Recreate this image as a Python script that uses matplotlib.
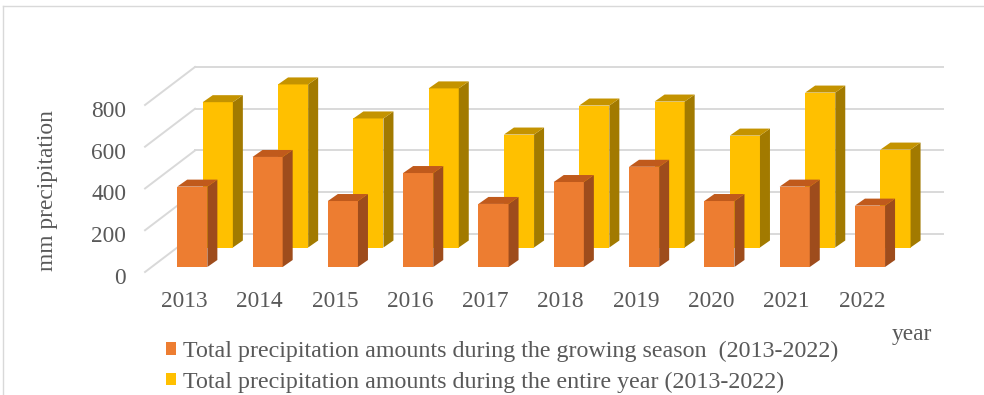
import matplotlib
matplotlib.use("Agg")
import matplotlib.pyplot as plt
from matplotlib.patches import Polygon, Patch
from matplotlib.transforms import ScaledTranslation
from matplotlib.lines import Line2D

# ---- data ----
years = [2013, 2014, 2015, 2016, 2017, 2018, 2019, 2020, 2021, 2022]
growing_season = [385, 527, 316, 450, 302, 407, 480, 316, 385, 294]
entire_year = [696, 781, 618, 762, 541, 680, 699, 536, 742, 469]
y_ticks = [0, 200, 400, 600, 800]
series_labels = [
    "Total precipitation amounts during the growing season  (2013-2022)",
    "Total precipitation amounts during the entire year (2013-2022)",
]
y_title = "mm precipitation"
x_title = "year"

# ---- styling ----
W, H, DPI = 984, 395, 100
FONT = "Liberation Serif"
FS = 16.8
FS_LEG = 17.3
TXT = "#595959"
GRID = "#D9D9D9"
ORANGE = ("#ED7D31", "#9E4C1C", "#C05A1C")   # front, side, top
YELLOW = ("#FFC000", "#A27A00", "#C49300")
BAR_W = 0.40

plt.rcParams["font.family"] = [FONT, "DejaVu Serif"]

fig = plt.figure(figsize=(W / DPI, H / DPI), dpi=DPI)
ax = fig.add_axes([154.65 / W, 128 / H, 753 / W, 208.8 / H])
ax.set_xlim(-0.5, 9.5)
ax.set_ylim(0, 1000)
ax.axis("off")

# pixel -> data unit conversions
PX = 10 / 753.0
PY = 1000 / 208.8


def shift(dx, dy):
    """Data transform moved by (dx, dy) pixels (dy positive = up)."""
    return ax.transData + ScaledTranslation(dx / DPI, dy / DPI, fig.dpi_scale_trans)


# ---- walls: back-wall gridlines and left-wall diagonals ----
WALL_L, WALL_R = -0.548, 9.385
BACK = (44, 33)      # back wall offset in pixels
FRONT = (-6, -5)     # front floor edge offset in pixels
for v in y_ticks:
    ax.plot([WALL_L, WALL_R], [v, v], color=GRID, lw=1.4,
            transform=shift(*BACK), clip_on=False, zorder=1)
    ax.plot([WALL_L + FRONT[0] * PX, WALL_L + BACK[0] * PX],
            [v + FRONT[1] * PY, v + BACK[1] * PY],
            color=GRID, lw=1.4, clip_on=False, zorder=1)

# ---- 3D-looking bars ----
DEPTH = (10, 7)   # side/top depth in pixels


def bars3d(values, colors, trans, z):
    xs = list(range(len(values)))
    face, side, top = colors
    ax.bar(xs, values, width=BAR_W, color=face, transform=trans,
           clip_on=False, zorder=z, linewidth=0)
    ddx, ddy = DEPTH[0] * PX, DEPTH[1] * PY
    for x, v in zip(xs, values):
        xl, xr = x - BAR_W / 2, x + BAR_W / 2
        ax.add_patch(Polygon([(xr, 0), (xr + ddx, ddy), (xr + ddx, v + ddy), (xr, v)],
                             closed=True, facecolor=side, edgecolor="none",
                             transform=trans, clip_on=False, zorder=z))
        ax.add_patch(Polygon([(xl, v), (xr, v), (xr + ddx, v + ddy), (xl + ddx, v + ddy)],
                             closed=True, facecolor=top, edgecolor="none",
                             transform=trans, clip_on=False, zorder=z))


bars3d(entire_year, YELLOW, shift(25.5, 19.5), 2)
bars3d(growing_season, ORANGE, ax.transData, 3)

# ---- axis labels ----
for v in y_ticks:
    ax.text(-0.5, v, str(v), transform=shift(-28.6, -17), ha="right", va="baseline",
            fontsize=FS, color=TXT, clip_on=False)
for i, yr in enumerate(years):
    ax.text(i, 0, str(yr), transform=shift(-8, -40), ha="center", va="baseline",
            fontsize=FS, color=TXT, clip_on=False)

fig.text(48 / W, 1 - 191 / H, y_title, rotation=90, ha="center", va="center",
         fontsize=FS, color=TXT)
fig.text(912 / W, 1 - 340 / H, x_title, ha="center", va="baseline",
         fontsize=FS, color=TXT)

# ---- legend ----
handles = [Patch(facecolor=ORANGE[0], edgecolor="none"),
           Patch(facecolor=YELLOW[0], edgecolor="none")]
leg = fig.legend(handles, series_labels, loc="upper left",
                 bbox_to_anchor=(166 / W, 1 - 341 / H), frameon=False,
                 fontsize=FS_LEG, handlelength=0.42, handleheight=0.42,
                 handletextpad=0.29, labelspacing=0.38, borderpad=0,
                 borderaxespad=0)
for t in leg.get_texts():
    t.set_color(TXT)

# ---- chart area border (top and left edges) ----
fig.add_artist(Line2D([3 / W, 3 / W], [0, 1 - 6 / H], color=GRID, lw=1.0))
fig.add_artist(Line2D([3 / W, 1], [1 - 6 / H, 1 - 6 / H], color=GRID, lw=1.0))

fig.savefig("out.png", dpi=DPI)
